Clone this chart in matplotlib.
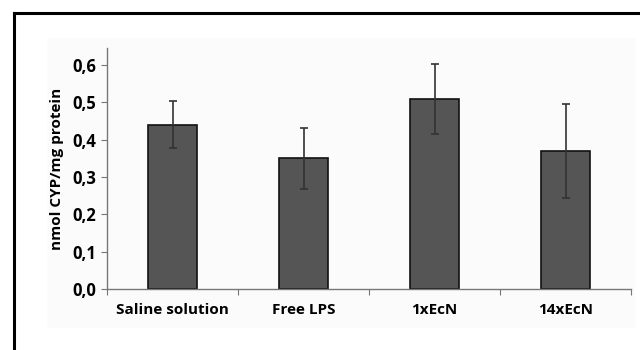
import numpy as np
import matplotlib.pyplot as plt
from matplotlib.lines import Line2D
from matplotlib.patches import Rectangle

groups = ["Saline solution", "Free LPS", "1xEcN", "14xEcN"]
cyp_mean = [0.44, 0.35, 0.508, 0.37]
cyp_err = [0.063, 0.081, 0.094, 0.125]
ytick_vals = [0.0, 0.1, 0.2, 0.3, 0.4, 0.5, 0.6]
ytick_text = ["0,0", "0,1", "0,2", "0,3", "0,4", "0,5", "0,6"]

plt.rcParams["font.family"] = ["Open Sans", "DejaVu Sans"]
plt.rcParams["font.weight"] = "bold"

fig = plt.figure(figsize=(6.4, 3.5), dpi=100)
fig.patch.set_facecolor("white")

# faint panel background and the cropped outer frame
fig.add_artist(Rectangle((47 / 640, 1 - 328 / 350), 588 / 640, 290 / 350,
                         transform=fig.transFigure, facecolor="#fbfbfb",
                         edgecolor="none", zorder=0))
fig.add_artist(Line2D([14 / 640, 14 / 640], [0, 1 - 13 / 350],
                      transform=fig.transFigure, color="black", lw=2.2))
fig.add_artist(Line2D([14 / 640, 1], [1 - 13 / 350, 1 - 13 / 350],
                      transform=fig.transFigure, color="black", lw=2.2))

ax = fig.add_axes([107 / 640, 1 - 289 / 350, 524 / 640, 241 / 350])
ax.set_facecolor("none")

x = np.arange(len(groups))
ax.bar(x, cyp_mean, width=0.38, color="#555555", edgecolor="#111111",
       linewidth=1.2, zorder=2)
ax.errorbar(x, cyp_mean, yerr=cyp_err, fmt="none", ecolor="#333333",
            elinewidth=1.2, capsize=2.8, capthick=1.2, zorder=3)

ax.set_xlim(-0.5, 3.5)
ax.set_ylim(0, 0.6456)
ax.set_yticks(ytick_vals)
ax.set_yticklabels(ytick_text)
ax.set_xticks(np.arange(-0.5, 4.0, 1.0))
ax.set_xticklabels([])
ax.set_xticks(x, minor=True)
ax.set_xticklabels(groups, minor=True)
ax.tick_params(axis="x", which="minor", length=0, pad=10, labelsize=11)
ax.tick_params(axis="x", which="major", length=4, color="#777777")
ax.tick_params(axis="y", length=4, color="#777777", labelsize=12, pad=4)
ax.set_ylabel("nmol CYP/mg protein", fontsize=11, fontweight="bold", labelpad=6)

for s in ["top", "right"]:
    ax.spines[s].set_visible(False)
for s in ["left", "bottom"]:
    ax.spines[s].set_color("#777777")
    ax.spines[s].set_linewidth(1.0)

fig.savefig("out.png", dpi=100)
